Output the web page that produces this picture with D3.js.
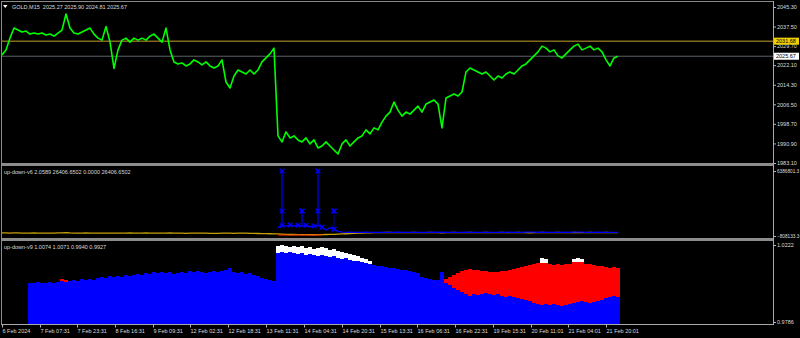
<!DOCTYPE html>
<html>
<head>
<meta charset="utf-8">
<script src="https://cdnjs.cloudflare.com/ajax/libs/d3/7.8.5/d3.min.js"></script>
<style>
  body { margin: 0; background: #000; }
  svg { display: block; font-family: "Liberation Sans", Arial, sans-serif; }
</style>
</head>
<body>
<div id="chart"></div>
<script>
// ---- data ----
const symbolTitle = 'GOLD,M15';
const ohlc = [2025.27, 2025.90, 2024.81, 2025.67];
const priceTicks = [2045.30, 2037.50, 2029.70, 2022.10, 2014.30, 2006.50, 1998.70, 1990.90, 1983.10];
const hlineYellow = 2031.68;
const lastPrice = 2025.67;

// close prices, one sample per bar group
const closes = [
  2026.2, 2028.2, 2032.9, 2036.9, 2036.1, 2035.3, 2035.7, 2034.5, 2034.9, 2034.5,
  2034.9, 2034.1, 2034.5, 2033.7, 2034.9, 2036.1, 2042.5, 2036.9, 2034.9, 2034.5,
  2035.3, 2036.1, 2036.9, 2034.5, 2032.9, 2032.1, 2037.5, 2031.3, 2020.8, 2028.2,
  2032.1, 2032.9, 2031.3, 2032.9, 2032.1, 2032.9, 2032.1, 2033.7, 2034.5, 2032.9,
  2031.3, 2036.9, 2028.2, 2023.4, 2022.6, 2023.0, 2021.8, 2022.6, 2024.2, 2023.4,
  2022.2, 2023.4, 2021.8, 2021.0, 2021.8, 2024.2, 2015.4, 2013.0, 2017.8, 2020.2,
  2019.4, 2018.6, 2020.2, 2018.6, 2020.2, 2023.4, 2025.0, 2026.6, 2028.9, 1993.9,
  1991.5, 1995.5, 1993.1, 1993.9, 1992.3, 1991.5, 1993.1, 1990.7, 1992.3, 1989.1,
  1989.9, 1991.5, 1989.9, 1988.3, 1986.7, 1990.7, 1992.3, 1989.9, 1991.5, 1993.1,
  1993.9, 1996.3, 1994.7, 1997.1, 1996.3, 1999.4, 2001.8, 2003.4, 2007.4, 2004.2,
  2001.8, 2003.4, 2002.6, 2004.2, 2005.8, 2003.4, 2006.6, 2007.4, 2008.2, 2006.6,
  1997.1, 2009.0, 2009.8, 2010.6, 2009.8, 2011.4, 2019.4, 2021.0, 2020.2, 2019.4,
  2018.6, 2019.4, 2017.8, 2016.2, 2017.8, 2017.0, 2018.6, 2019.4, 2018.6, 2020.2,
  2021.8, 2022.6, 2024.2, 2025.8, 2027.4, 2029.7, 2028.9, 2027.4, 2028.2, 2025.8,
  2025.0, 2026.6, 2028.2, 2029.7, 2030.5, 2028.2, 2028.9, 2029.7, 2028.2, 2028.9,
  2027.4, 2024.2, 2021.8, 2025.0, 2025.7
];

const timeLabels = ['6 Feb 2024', '7 Feb 07:31', '7 Feb 23:31', '8 Feb 16:31', '9 Feb 09:31',
  '12 Feb 02:31', '12 Feb 18:31', '13 Feb 11:31', '14 Feb 04:31', '14 Feb 20:31', '15 Feb 13:31',
  '16 Feb 06:31', '16 Feb 22:31', '19 Feb 15:31', '20 Feb 11:01', '21 Feb 04:01', '21 Feb 20:01'];
const timeLabelBars = [0, 9.5, 18.75, 28.25, 37.75, 47, 56.5, 66, 75.5, 85, 94.5,
  103.75, 113.25, 122.75, 132.25, 141.5, 151];

// up-down-v6 (middle window)
const v6Title = 'up-down-v6 2.0589 26406.6502 0.0000 26406.6502';
const v6Range = [-808133.3, 6386801.3];
const v6Yellow = [
  -4.6e5,-4.7e5,-4.8e5,-4.7e5,-4.6e5,-4.8e5,-4.9e5,-4.8e5,-4.7e5,-4.8e5,-4.9e5,-5.0e5,-4.9e5,-4.8e5,-4.7e5,-4.6e5,-4.5e5,-4.7e5,-4.8e5,-4.9e5,
  -4.8e5,-4.7e5,-4.8e5,-4.9e5,-5.0e5,-4.9e5,-4.8e5,-4.9e5,-5.0e5,-4.9e5,-4.8e5,-4.8e5,-4.7e5,-4.8e5,-4.9e5,-4.8e5,-4.7e5,-4.8e5,-4.9e5,-5.0e5,
  -4.9e5,-4.8e5,-4.7e5,-4.8e5,-4.9e5,-5.0e5,-5.1e5,-5.0e5,-4.9e5,-4.8e5,-4.9e5,-5.0e5,-5.1e5,-5.2e5,-5.1e5,-5.0e5,-4.9e5,-5.0e5,-5.1e5,-5.0e5,
  -4.9e5,-5.0e5,-5.1e5,-5.2e5,-5.3e5,-5.4e5,-5.5e5,-5.6e5,-5.7e5,-5.8e5,-6.0e5,-6.2e5,-6.3e5,-6.4e5,-6.5e5,-6.6e5,-6.5e5,-6.6e5,-6.7e5,-6.6e5,
  -6.5e5,-6.4e5,-6.3e5,-6.2e5,-6.0e5,-5.8e5,-5.6e5,-5.4e5,-5.2e5,-5.0e5,-4.8e5,-4.6e5,-4.5e5,-4.4e5,-4.3e5,-4.3e5,-4.2e5,-4.2e5,-4.3e5,-4.3e5,
  -4.3e5,-4.4e5,-4.3e5,-4.2e5,-4.3e5,-4.4e5,-4.3e5,-4.2e5,-4.3e5,-4.4e5,-4.5e5,-4.4e5,-4.3e5,-4.2e5,-4.3e5,-4.4e5,-4.3e5,-4.2e5,-4.3e5,-4.4e5,
  -4.3e5,-4.2e5,-4.3e5,-4.4e5,-4.3e5,-4.2e5,-4.3e5,-4.4e5,-4.3e5,-4.2e5,-4.3e5,-4.4e5,-4.5e5,-4.4e5,-4.3e5,-4.2e5,-4.3e5,-4.4e5,-4.3e5,-4.2e5,
  -4.3e5,-4.4e5,-4.3e5,-4.2e5,-4.3e5,-4.4e5,-4.3e5,-4.2e5,-4.3e5,-4.4e5,-4.3e5,-4.2e5,-4.3e5,-4.4e5,-4.3e5
];
const v6BlueStart = 69;
const v6Blue = [
  1.5e5, 3.5e5, 2.8e5, 4.2e5, 3.0e5, 3.8e5, 2.6e5, 3.8e5, 2.2e5, 3.0e5, 3.4e5, 1.8e5, -1.5e5, 1.0e5, -0.5e5, -3.0e5, -3.8e5,
  -4.0e5,-3.9e5,-4.0e5,-4.1e5,-4.0e5,-3.9e5,-4.0e5,-4.1e5,-4.2e5,-4.1e5,
  -4.0e5,-4.1e5,-4.0e5,-3.9e5,-4.0e5,-4.1e5,-4.0e5,-4.0e5,-4.1e5,-4.2e5,
  -4.1e5,-4.0e5,-3.9e5,-4.0e5,-3.8e5,-4.0e5,-4.1e5,-4.0e5,-4.1e5,-4.0e5,
  -3.9e5,-4.0e5,-4.1e5,-4.0e5,-4.1e5,-4.2e5,-4.1e5,-4.0e5,-4.1e5,-4.0e5,
  -4.0e5,-3.9e5,-4.0e5,-4.1e5,-4.0e5,-3.9e5,-3.8e5,-3.9e5,-4.0e5,-3.9e5,
  -4.0e5,-4.1e5,-4.0e5,-4.1e5,-4.0e5,-3.9e5,-4.0e5,-3.9e5,-3.8e5,-3.9e5,
  -4.0e5,-4.1e5,-4.0e5,-3.9e5,-4.0e5,-4.1e5,-4.0e5,-4.1e5,-4.0e5
];
const v6RedStart = 69;
const v6Red = [-6.9e5,-7.1e5,-7.0e5,-7.2e5,-7.0e5,-6.9e5,-7.1e5,-7.0e5,-7.2e5,-7.0e5,-6.9e5,-7.0e5];
const v6SpikeBars = [70, 75, 79, 83];
const v6SpikeHigh = [6386801, 1.96e6, 6386801, 1.96e6];
const v6SpikeMid = [1.96e6, 1.96e6, 1.96e6, 1.96e6];
const v6LowMarks = [70, 72, 74, 76, 78, 80, 83];

// up-down-v9 (bottom window)
const v9Title = 'up-down-v9 1.0074 1.0071 0.9940 0.9927';
const v9Range = [0.9786, 1.0222];
const v9BlueStart = 7;
const v9Blue = [
  1.0007,1.0007,1.0013,1.0007,1.0007,1.0013,1.0007,1.0013,1.0018,1.0013,
  1.0018,1.0024,1.0018,1.0029,1.0024,1.0029,1.0024,1.0035,1.0041,1.0035,
  1.0046,1.0041,1.0046,1.0041,1.0052,1.0046,1.0052,1.0058,1.0052,1.0063,
  1.0058,1.0069,1.0063,1.0069,1.0063,1.0069,1.0058,1.0063,1.0069,1.0063,
  1.0075,1.0069,1.0075,1.0069,1.0063,1.0069,1.0075,1.0069,1.0075,1.0080,
  1.0092,1.0069,1.0063,1.0069,1.0058,1.0063,1.0052,1.0046,1.0035,1.0029,
  1.0024,1.0018,1.0177,1.0182,1.0177,1.0182,1.0177,1.0171,1.0177,1.0165,
  1.0171,1.0165,1.0160,1.0165,1.0160,1.0154,1.0160,1.0148,1.0143,1.0148,
  1.0137,1.0131,1.0131,1.0126,1.0120,1.0114,1.0109,1.0103,1.0103,1.0097,
  1.0092,1.0092,1.0086,1.0080,1.0080,1.0075,1.0069,1.0063,1.0041,1.0035,
  1.0029,1.0024,1.0024,1.0069,1.0007,0.9995,0.9979,0.9967,0.9956,0.9945,
  0.9933,0.9945,0.9939,0.9945,0.9950,0.9945,0.9939,0.9945,0.9933,0.9928,
  0.9933,0.9928,0.9922,0.9916,0.9911,0.9905,0.9894,0.9888,0.9882,0.9888,
  0.9882,0.9888,0.9882,0.9877,0.9882,0.9888,0.9894,0.9899,0.9905,0.9899,
  0.9894,0.9899,0.9905,0.9911,0.9922,0.9928,0.9933,0.9928
];
const v9RedEarlyStart = 15;
const v9RedEarly = [1.0029, 1.0024];
const v9RedStart = 111;
const v9Red = [
  1.0029,1.0041,1.0052,1.0063,1.0075,1.0080,1.0086,1.0080,1.0080,1.0075,
  1.0075,1.0069,1.0069,1.0069,1.0075,1.0075,1.0080,1.0086,1.0092,1.0097,
  1.0103,1.0109,1.0114,1.0120,1.0120,1.0120,1.0114,1.0109,1.0114,1.0109,
  1.0114,1.0114,1.0126,1.0126,1.0126,1.0114,1.0114,1.0109,1.0103,1.0103,
  1.0097,1.0092,1.0097,1.0092
];
const v9WhiteStart = 69;
const v9White = [
  1.0216,1.0222,1.0216,1.0211,1.0216,1.0211,1.0216,1.0205,1.0211,1.0199,1.0205,1.0211,
  1.0205,1.0194,1.0199,1.0188,1.0182,1.0177,1.0171,1.0165,1.0160,1.0148,1.0143,1.0131
];
const v9WhiteLate1Start = 135;
const v9WhiteLate1 = [1.0148, 1.0143];
const v9WhiteLate2Start = 143;
const v9WhiteLate2 = [1.0143, 1.0148, 1.0143];

// ---- layout ----
const W = 800, H = 338;
const plotL = 1, plotR = 773;
const topP = [1, 163], midP = [166, 238], botP = [241, 324];
const txt = '#dcdcdc', fs = 5.5;

const svg = d3.select('#chart').append('svg')
  .attr('width', W).attr('height', H)
  .style('background', '#000');

const x = d3.scaleLinear().domain([0, closes.length - 1]).range([2, 618]);
const yTop = d3.scaleLinear().domain([1983.1, 2045.3]).range([163, 7]);
const yMid = d3.scaleLinear().domain(v6Range).range([236, 171]);
const yBot = d3.scaleLinear().domain(v9Range).range([322, 245]);
const bw = x(1) - x(0);

const defs = svg.append('defs');
[['cTop', topP], ['cMid', midP], ['cBot', botP]].forEach(([id, p]) => {
  defs.append('clipPath').attr('id', id).append('rect')
    .attr('x', plotL + 1).attr('y', p[0]).attr('width', plotR - plotL - 1).attr('height', p[1] - p[0]);
});

// frame
svg.append('line').attr('x1', plotL).attr('x2', plotR).attr('y1', 1.5).attr('y2', 1.5).attr('stroke', '#8a8a8a');
svg.append('line').attr('x1', 1.5).attr('x2', 1.5).attr('y1', 1).attr('y2', 324.5).attr('stroke', '#8a8a8a');
svg.append('line').attr('x1', plotR + 0.5).attr('x2', plotR + 0.5).attr('y1', 1).attr('y2', 325).attr('stroke', '#a8a8a8');
[163, 238].forEach(y0 => svg.append('rect').attr('x', plotL).attr('y', y0).attr('width', plotR - plotL)
  .attr('height', 3).attr('fill', '#8c8c8c'));

// ---- top window ----
const gTop = svg.append('g').attr('clip-path', 'url(#cTop)');
gTop.append('line').attr('x1', plotL).attr('x2', plotR)
  .attr('y1', yTop(hlineYellow)).attr('y2', yTop(hlineYellow))
  .attr('stroke', '#c4a22c').attr('stroke-width', 1);
gTop.append('line').attr('x1', plotL).attr('x2', plotR)
  .attr('y1', yTop(lastPrice)).attr('y2', yTop(lastPrice))
  .attr('stroke', '#5c636b').attr('stroke-width', 1);
gTop.append('path').datum(closes)
  .attr('fill', 'none').attr('stroke', '#00ff00').attr('stroke-width', 1.6)
  .attr('stroke-linejoin', 'round')
  .attr('d', d3.line().x((d, i) => x(i)).y(d => yTop(d)));

svg.append('path').attr('d', 'M3,5L7.5,5L5.25,8Z').attr('fill', '#fff');
svg.append('text').attr('x', 12).attr('y', 8.5).attr('fill', txt).attr('font-size', fs)
  .attr('xml:space', 'preserve')
  .text(symbolTitle + '  ' + ohlc.map(d3.format('.2f')).join(' '));

// ---- middle window ----
const gMid = svg.append('g').attr('clip-path', 'url(#cMid)');
gMid.append('path').datum(v6Yellow)
  .attr('fill', 'none').attr('stroke', '#c8a000').attr('stroke-width', 1.3)
  .attr('d', d3.line().x((d, i) => x(i)).y(d => yMid(d)));
gMid.append('path').datum(v6Red)
  .attr('fill', 'none').attr('stroke', '#ff3000').attr('stroke-width', 1)
  .attr('d', d3.line().x((d, k) => x(v6RedStart + k)).y(d => yMid(d)));
gMid.append('path').datum(v6Blue)
  .attr('fill', 'none').attr('stroke', '#0000ff').attr('stroke-width', 1.3)
  .attr('d', d3.line().x((d, k) => x(v6BlueStart + k)).y(d => yMid(d)));

const blueAt = i => v6Blue[i - v6BlueStart];
gMid.selectAll('.stem').data(v6SpikeBars).enter().append('line')
  .attr('x1', d => x(d)).attr('x2', d => x(d))
  .attr('y1', d => yMid(blueAt(d)))
  .attr('y2', (d, k) => yMid(v6SpikeHigh[k]))
  .attr('stroke', (d, k) => k === 3 ? '#00008c' : '#0000ff').attr('stroke-width', 1.2);

const cross = d3.symbol().type(d3.symbolTimes || d3.symbolCross).size(16);
const marks = [];
v6SpikeBars.forEach((b, k) => {
  marks.push([b, v6SpikeHigh[k]]);
  marks.push([b, v6SpikeMid[k]]);
});
v6LowMarks.forEach(b => marks.push([b, blueAt(b)]));
gMid.selectAll('.mk').data(marks).enter().append('path')
  .attr('transform', d => `translate(${x(d[0])},${yMid(d[1])})`)
  .attr('d', cross)
  .attr('fill', 'none').attr('stroke', '#0000ff').attr('stroke-width', 1.4);

svg.append('text').attr('x', 4).attr('y', 173.5).attr('fill', txt).attr('font-size', fs).text(v6Title);

// ---- bottom window ----
const gBot = svg.append('g').attr('clip-path', 'url(#cBot)').attr('shape-rendering', 'crispEdges');
function bars(start, vals, color) {
  gBot.append('g').selectAll('rect')
    .data(vals.map((v, k) => ({ i: start + k, v })))
    .enter().append('rect')
    .attr('x', d => x(d.i) - bw / 2).attr('width', bw)
    .attr('y', d => yBot(d.v)).attr('height', d => botP[1] - yBot(d.v))
    .attr('fill', color);
}
bars(v9WhiteStart, v9White, '#ffffff');
bars(v9WhiteLate1Start, v9WhiteLate1, '#ffffff');
bars(v9WhiteLate2Start, v9WhiteLate2, '#ffffff');
bars(v9RedEarlyStart, v9RedEarly, '#ff0000');
bars(v9RedStart, v9Red, '#ff0000');
bars(v9BlueStart, v9Blue, '#0000ff');

svg.append('text').attr('x', 4).attr('y', 248.5).attr('fill', txt).attr('font-size', fs).text(v9Title);

// ---- axes ----
function styleAxis(g, size) {
  g.select('.domain').remove();
  g.selectAll('line').attr('stroke', '#b4b4b4');
  g.selectAll('text').attr('fill', txt).attr('font-size', size || fs)
    .attr('font-family', '"Liberation Sans", Arial, sans-serif');
}
svg.append('g').attr('transform', `translate(${plotR},0)`)
  .call(d3.axisRight(yTop).tickValues(priceTicks).tickFormat(d3.format('.2f')).tickSize(3).tickPadding(1))
  .call(styleAxis);
svg.append('g').attr('transform', `translate(${plotR},0)`)
  .call(d3.axisRight(yMid).tickValues(v6Range.slice().reverse()).tickFormat(d3.format('.1f')).tickSize(3).tickPadding(1))
  .call(g => styleAxis(g, 4.7));
svg.append('g').attr('transform', `translate(${plotR},0)`)
  .call(d3.axisRight(yBot).tickValues(v9Range.slice().reverse()).tickFormat(d3.format('.4f')).tickSize(3).tickPadding(1))
  .call(styleAxis);

const xAxis = svg.append('g').attr('transform', `translate(0,${botP[1] + 0.5})`)
  .call(d3.axisBottom(x).tickValues(timeLabelBars).tickFormat((d, k) => timeLabels[k]).tickSize(3).tickPadding(2))
  .call(styleAxis);
xAxis.selectAll('text').attr('text-anchor', 'start').attr('dx', 0);
svg.append('line').attr('x1', plotL).attr('x2', plotR + 1).attr('y1', botP[1] + 0.5).attr('y2', botP[1] + 0.5)
  .attr('stroke', '#a8a8a8');

// price tags on the right scale
function tag(value, bg) {
  const yy = yTop(value);
  svg.append('rect').attr('x', plotR + 1).attr('y', yy - 3.5).attr('width', 25).attr('height', 7).attr('fill', bg);
  svg.append('text').attr('x', plotR + 3).attr('y', yy + 2).attr('fill', '#000').attr('font-size', fs)
    .text(d3.format('.2f')(value));
}
tag(hlineYellow, '#f0d000');
tag(lastPrice, '#ffffff');
</script>
</body>
</html>
